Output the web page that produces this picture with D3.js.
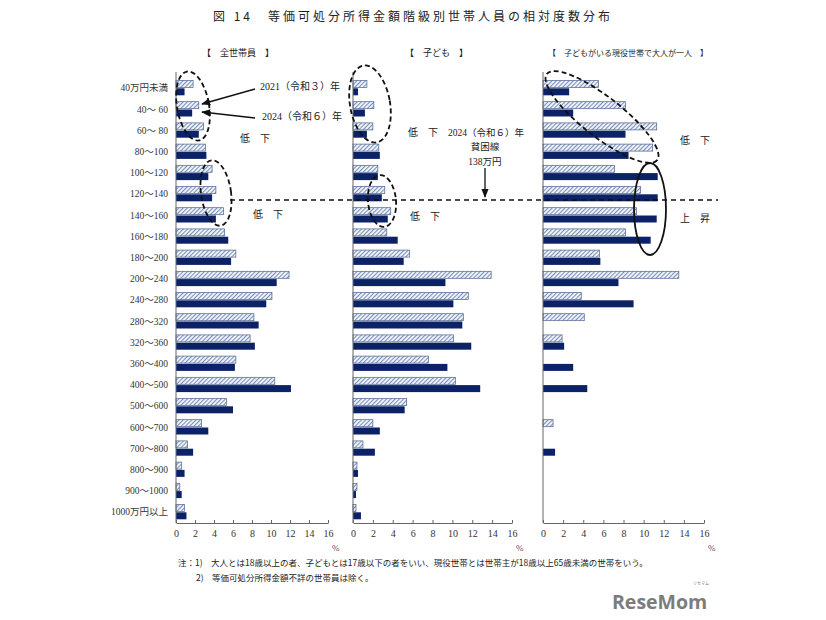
<!DOCTYPE html>
<html>
<head>
<meta charset="utf-8">
<script src="https://cdn.jsdelivr.net/npm/d3@7"></script>
<style>
  body { margin: 0; background: #fff; }
  svg { display: block; }
</style>
</head>
<body>
<div id="chart"></div>
<script>
// Data (percent of household members)
const categories = ["40万円未満", "40～ 60", "60～ 80", "80～100", "100～120", "120～140", "140～160",
  "160～180", "180～200", "200～240", "240～280", "280～320", "320～360", "360～400", "400～500",
  "500～600", "600～700", "700～800", "800～900", "900～1000", "1000万円以上"];

const all2021 = [1.8, 2.4, 2.9, 3.1, 3.8, 4.2, 5.0, 5.1, 6.3, 11.9, 10.1, 8.2, 7.8, 6.3, 10.4, 5.3, 2.7, 1.2, 0.6, 0.4, 0.9];
const all2024 = [0.9, 1.7, 2.4, 3.2, 3.4, 3.8, 4.2, 5.5, 5.8, 10.6, 9.5, 8.7, 8.3, 6.2, 12.1, 6.0, 3.4, 1.8, 0.9, 0.6, 1.1];
const child2021 = [1.4, 2.1, 2.0, 2.6, 2.5, 3.2, 3.8, 3.4, 5.7, 13.9, 11.6, 11.1, 10.1, 7.6, 10.3, 5.4, 2.0, 1.0, 0.4, 0.4, 0.3];
const child2024 = [0.5, 1.2, 1.4, 2.7, 2.5, 2.9, 3.5, 4.5, 5.1, 9.3, 10.1, 11.0, 11.9, 9.5, 12.8, 5.2, 2.7, 2.2, 0.5, 0.3, 0.8];
const single2021 = [5.5, 8.2, 11.3, 10.9, 7.1, 9.7, 9.3, 8.2, 5.6, 13.5, 3.8, 4.1, 1.9, 0, 0, 0, 1.0, 0, 0, 0, 0];
const single2024 = [2.6, 3.0, 8.2, 8.5, 11.4, 11.4, 11.3, 10.7, 5.7, 7.5, 9.0, 0, 2.1, 3.0, 4.4, 0, 0, 1.2, 0, 0, 0];

const xTicks = [0, 2, 4, 6, 8, 10, 12, 14, 16];
const panelTitles = ["【　全世帯員　】", "【　子ども　】", "【　子どもがいる現役世帯で大人が一人　】"];
const title = "図 14　等価可処分所得金額階級別世帯人員の相対度数分布";
const notes = ["注：1)　大人とは18歳以上の者、子どもとは17歳以下の者をいい、現役世帯とは世帯主が18歳以上65歳未満の世帯をいう。",
  "2)　等価可処分所得金額不詳の世帯員は除く。"];

const W = 826, H = 620;
const cjk = "'Noto Sans CJK JP', sans-serif";
const serif = "'Liberation Serif', 'Noto Sans CJK JP', serif";
const navy = "#0c2266";

const svg = d3.select("#chart").append("svg")
  .attr("width", W).attr("height", H);

// hatch pattern for 2021 bars
const defs = svg.append("defs");
const pat = defs.append("pattern")
  .attr("id", "hatch")
  .attr("patternUnits", "userSpaceOnUse")
  .attr("width", 3).attr("height", 3)
  .attr("patternTransform", "rotate(45)");
pat.append("rect").attr("width", 3).attr("height", 3).attr("fill", "#f4f7fc");
pat.append("line").attr("x1", 0.5).attr("y1", 0).attr("x2", 0.5).attr("y2", 3)
  .attr("stroke", "#7a8fb8").attr("stroke-width", 1.2);

// Title
svg.append("text")
  .attr("x", 213).attr("y", 21)
  .attr("font-family", cjk).attr("font-size", 12)
  .attr("letter-spacing", 3)
  .attr("fill", "#222")
  .style("white-space", "pre")
  .text(title);

// common y scale (row centers)
const y = d3.scalePoint().domain(categories).range([88, 512]);
const barH = 7;
const axisTop = 72, axisBottom = 523;

const panels = [
  { x0: 176, w: 152, d21: all2021, d24: all2024, tx: 202 },
  { x0: 353, w: 159, d21: child2021, d24: child2024, tx: 405 },
  { x0: 543, w: 161, d21: single2021, d24: single2024, tx: 548 }
];

panels.forEach((p, i) => {
  const x = d3.scaleLinear().domain([0, 16]).range([p.x0, p.x0 + p.w]);
  const g = svg.append("g");

  // panel title
  g.append("text")
    .attr("x", p.tx).attr("y", 56)
    .attr("font-family", cjk)
    .attr("font-size", i === 2 ? 8 : 9)
    .attr("fill", "#222")
    .style("white-space", "pre")
    .text(panelTitles[i]);

  // 2021 hatched bars
  g.selectAll(".b21").data(categories).enter().append("rect")
    .filter((d, k) => p.d21[k] > 0)
    .attr("x", x(0))
    .attr("y", d => y(d) - barH - 0.5)
    .attr("width", d => x(p.d21[categories.indexOf(d)]) - x(0))
    .attr("height", barH)
    .attr("fill", "url(#hatch)")
    .attr("stroke", "#4d6391")
    .attr("stroke-width", 0.7);

  // 2024 solid bars
  g.selectAll(".b24").data(categories).enter().append("rect")
    .filter((d, k) => p.d24[k] > 0)
    .attr("x", x(0))
    .attr("y", d => y(d) + 0.3)
    .attr("width", d => x(p.d24[categories.indexOf(d)]) - x(0))
    .attr("height", barH)
    .attr("fill", navy);

  // y axis line
  g.append("line")
    .attr("x1", x(0)).attr("x2", x(0))
    .attr("y1", axisTop).attr("y2", axisBottom)
    .attr("stroke", "#666").attr("stroke-width", 1);

  // x axis
  const xa = g.append("g")
    .attr("transform", `translate(0,${axisBottom})`)
    .call(d3.axisBottom(x).tickValues(xTicks).tickSizeInner(-3).tickSizeOuter(0).tickPadding(7));
  xa.select(".domain").attr("stroke", "#666");
  xa.selectAll(".tick line").attr("stroke", "#666");
  xa.selectAll("text")
    .attr("font-family", serif).attr("font-size", 10).attr("fill", "#333");

  // % unit
  g.append("text")
    .attr("x", x(16) + 4).attr("y", 551)
    .attr("font-family", serif).attr("font-size", 9).attr("fill", "#555")
    .text("%");

  // category labels only in first panel
  if (i === 0) {
    g.selectAll(".cat").data(categories).enter().append("text")
      .attr("x", 168)
      .attr("y", d => y(d))
      .attr("dy", "0.35em")
      .attr("text-anchor", "end")
      .attr("font-family", serif)
      .attr("font-size", 9.5)
      .attr("fill", "#333")
      .style("white-space", "pre")
      .text(d => d);
  }
});

// poverty line (138万円) - dashed
const povY = y("120～140") + 6;
svg.append("line")
  .attr("x1", 230).attr("x2", 718)
  .attr("y1", povY).attr("y2", povY)
  .attr("stroke", "#111").attr("stroke-width", 1.5)
  .attr("stroke-dasharray", "5,4");

// annotation ellipses
const ell = [
  { cx: 193, cy: 106, rx: 16, ry: 35, rot: -10, dash: "5,3" },
  { cx: 216, cy: 193, rx: 15, ry: 33, rot: -8, dash: "5,3" },
  { cx: 370, cy: 104, rx: 20, ry: 39, rot: -10, dash: "5,3" },
  { cx: 382, cy: 201, rx: 14, ry: 26, rot: -5, dash: "5,3" },
  { cx: 602, cy: 117, rx: 70, ry: 20, rot: 38, dash: "5,3" },
  { cx: 650, cy: 209, rx: 16, ry: 46, rot: 0, dash: null }
];
ell.forEach(e => {
  svg.append("ellipse")
    .attr("cx", 0).attr("cy", 0).attr("rx", e.rx).attr("ry", e.ry)
    .attr("transform", `translate(${e.cx},${e.cy}) rotate(${e.rot})`)
    .attr("fill", "none").attr("stroke", "#111").attr("stroke-width", 1.8)
    .attr("stroke-dasharray", e.dash);
});

// arrow marker
defs.append("marker")
  .attr("id", "arrow").attr("viewBox", "0 0 10 10")
  .attr("refX", 9).attr("refY", 5)
  .attr("markerWidth", 7).attr("markerHeight", 7)
  .attr("orient", "auto")
  .append("path").attr("d", "M0,1 L10,5 L0,9 z").attr("fill", "#111");

const arrows = [
  [255, 89, 202, 104],
  [255, 118, 202, 112],
  [485, 168, 485, 197]
];
arrows.forEach(a => {
  svg.append("line")
    .attr("x1", a[0]).attr("y1", a[1]).attr("x2", a[2]).attr("y2", a[3])
    .attr("stroke", "#111").attr("stroke-width", 1.3)
    .attr("marker-end", "url(#arrow)");
});

// annotation texts
const labels = [
  { x: 260, y: 90, t: "2021（令和３）年", s: 10 },
  { x: 262, y: 120, t: "2024（令和６）年", s: 10 },
  { x: 240, y: 142, t: "低　下", s: 10 },
  { x: 253, y: 218, t: "低　下", s: 10 },
  { x: 408, y: 136, t: "低　下", s: 10 },
  { x: 410, y: 220, t: "低　下", s: 10 },
  { x: 448, y: 136, t: "2024（令和６）年", s: 9.5 },
  { x: 485, y: 150, t: "貧困線", s: 9.5, anchor: "middle" },
  { x: 485, y: 165, t: "138万円", s: 9.5, anchor: "middle" },
  { x: 680, y: 144, t: "低　下", s: 10 },
  { x: 680, y: 222, t: "上　昇", s: 10 }
];
labels.forEach(l => {
  svg.append("text")
    .attr("x", l.x).attr("y", l.y)
    .attr("text-anchor", l.anchor || "start")
    .attr("font-family", serif).attr("font-size", l.s)
    .attr("fill", "#222")
    .style("white-space", "pre")
    .text(l.t);
});

// notes
svg.append("text").attr("x", 178).attr("y", 566)
  .attr("font-family", cjk).attr("font-size", 8.5).attr("fill", "#222")
  .style("white-space", "pre").text(notes[0]);
svg.append("text").attr("x", 196).attr("y", 581)
  .attr("font-family", cjk).attr("font-size", 8.5).attr("fill", "#222")
  .style("white-space", "pre").text(notes[1]);

// logo
svg.append("text").attr("x", 612).attr("y", 609)
  .attr("font-family", "'Open Sans', sans-serif").attr("font-weight", 700)
  .attr("font-size", 19.5).attr("fill", "#7c7c7c")
  .text("ReseMom");
svg.append("text").attr("x", 693).attr("y", 585)
  .attr("font-family", cjk).attr("font-size", 4).attr("fill", "#7c7c7c")
  .text("リセマム");
</script>
</body>
</html>
